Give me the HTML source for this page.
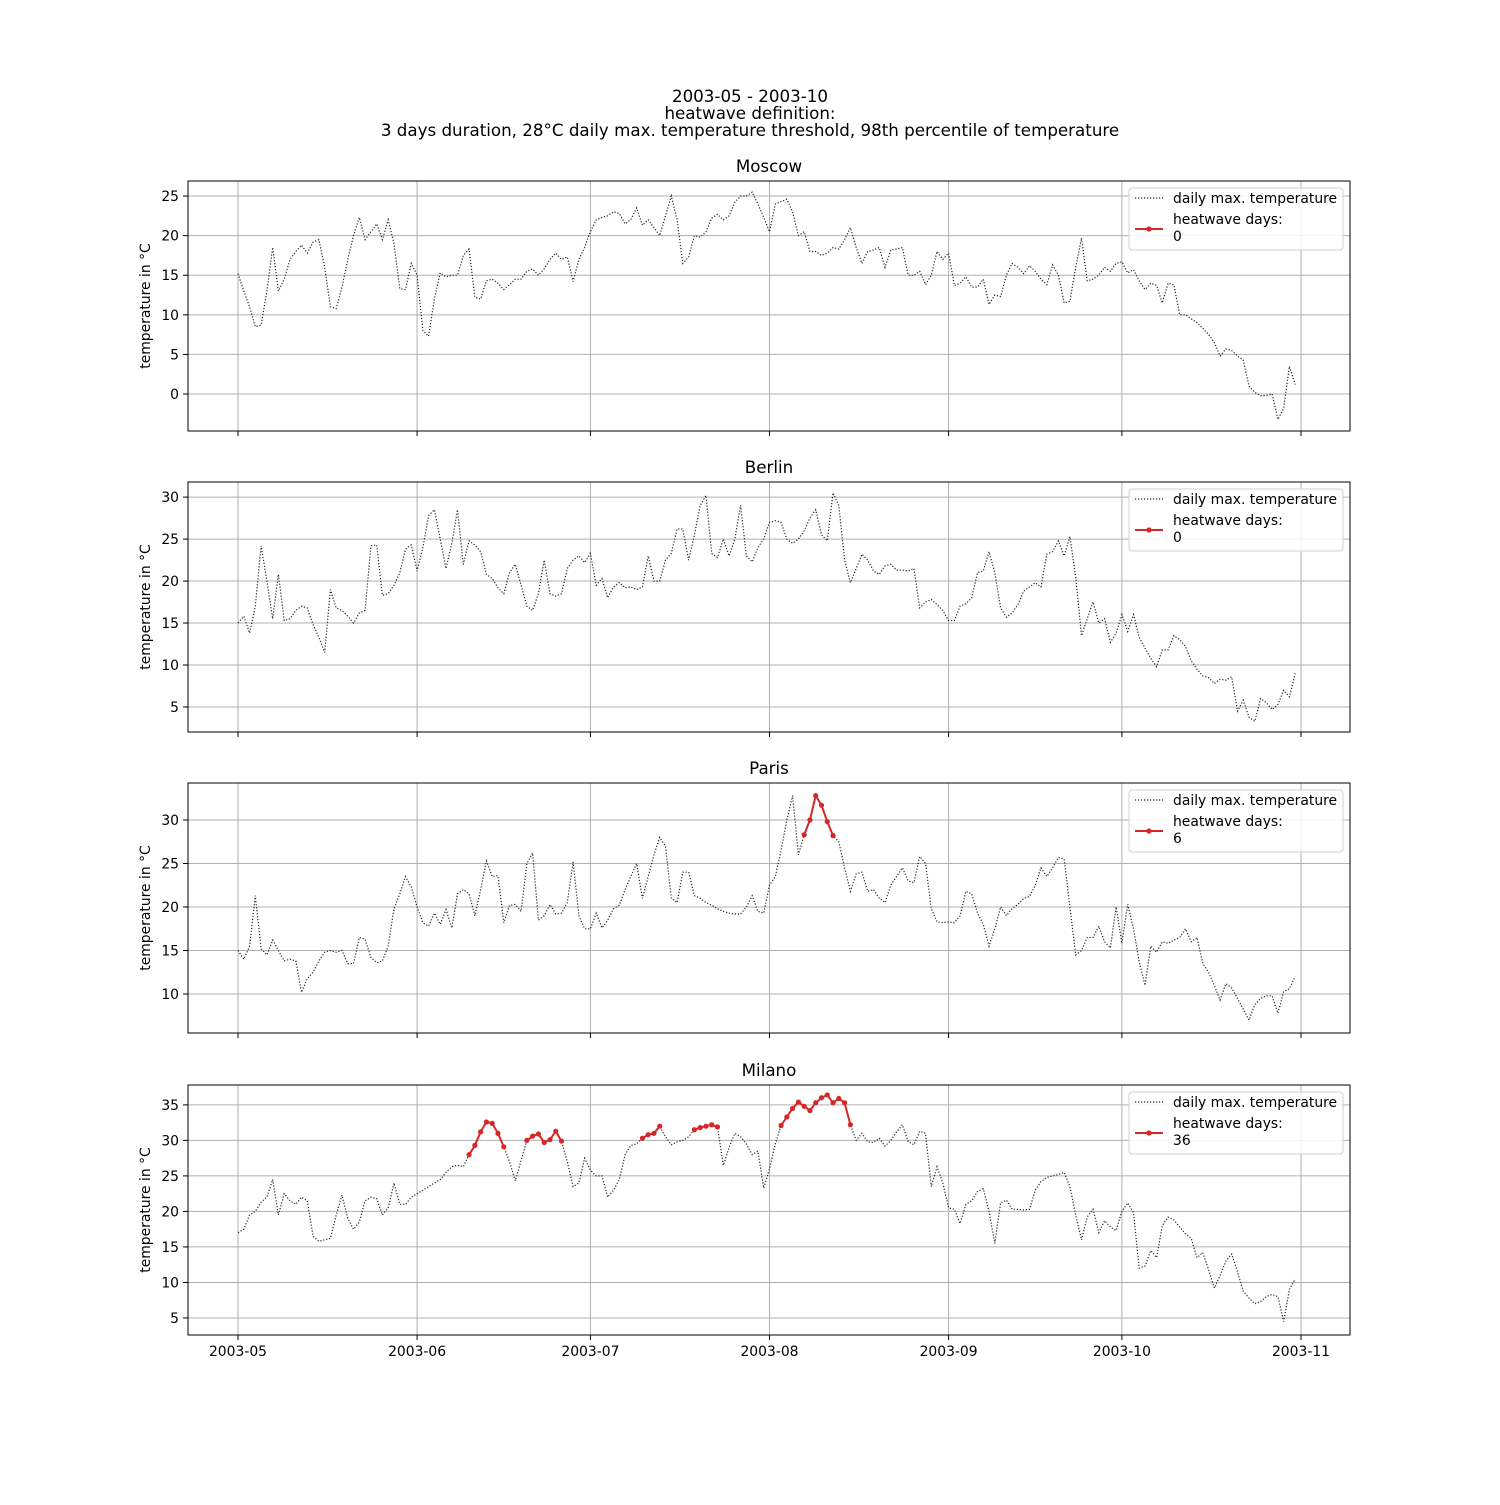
<!DOCTYPE html>
<html><head><meta charset="utf-8">
<style>
html,body{margin:0;padding:0;background:#fff;}
svg text{font-family:"DejaVu Sans","Liberation Sans",sans-serif;fill:#000;}
</style></head>
<body>
<svg id="chart" width="1500" height="1500" viewBox="0 0 1500 1500" xmlns="http://www.w3.org/2000/svg">
<rect width="1500" height="1500" fill="#fff"/>
<text x="750" y="102" font-size="16.7" text-anchor="middle">2003-05 - 2003-10</text>
<text x="750" y="119" font-size="16.7" text-anchor="middle">heatwave definition:</text>
<text x="750" y="136" font-size="16.7" text-anchor="middle">3 days duration, 28°C daily max. temperature threshold, 98th percentile of temperature</text>
</svg>
<script>
const cities = ["Moscow","Berlin","Paris","Milano"];
const moscowTemps = [15.2,13,11,8.5,8.7,13,18.5,13,14.5,17,18,18.8,17.8,19.2,19.5,16,11,10.8,13.5,17,20,22.3,19.5,20.5,21.5,19.5,22,19,13.3,13.2,16.5,15,8,7.3,12,15.3,14.8,15,15,17.5,18.3,12.2,12,14.3,14.5,14,13.2,13.8,14.5,14.5,15.5,15.8,15,15.8,17,17.8,17,17.3,14.2,17,18.5,20.5,22,22.3,22.5,23,22.8,21.5,22,23.5,21.3,22,21,20,22.5,25,22,16.5,17.3,20,19.8,20.5,22.2,22.7,22,22.5,24.2,25,25,25.5,24,22.3,20.5,24,24.3,24.6,23,20,20.5,18,18,17.5,17.8,18.5,18.3,19.5,21,18.5,16.5,18,18.2,18.5,16,18.2,18.3,18.5,15,15,15.5,13.8,15,18,17,17.8,13.7,14,14.8,13.5,13.5,14.5,11.3,12.5,12.3,15,16.5,16,15.2,16.2,15.5,14.5,13.8,16.3,15,11.5,11.7,16,19.7,14.3,14.5,15,16,15.5,16.5,16.7,15.3,15.7,14.3,13.2,14,13.7,11.5,14,13.8,10,10,9.5,9,8.3,7.5,6.5,4.8,5.7,5.5,4.8,4.3,1,0.2,-0.2,-0.2,0,-3.2,-1.8,3.5,1.2];
const berlinTemps = [15,15.8,13.8,17,24.2,20,15.5,20.8,15.3,15.5,16.5,17,16.8,14.8,13.3,11.5,19,16.8,16.5,15.8,15,16.2,16.5,24.2,24.3,18.3,18.5,19.5,21,23.8,24.3,21.2,24,27.8,28.5,25,21.5,24.5,28.5,22,24.8,24.3,23.5,20.8,20.3,19.2,18.5,21,22,19.5,17,16.5,18.5,22.5,18.5,18.2,18.5,21.5,22.5,23,22.2,23.3,19.5,20.3,18,19.3,19.8,19.2,19.3,19,19.3,23,20,20,22.5,23.3,26.2,26.2,22.5,25.5,29,30.2,23.3,22.8,25,23,25,29,23,22.3,24,25,27,27.2,27,25,24.5,25,26,27.5,28.5,25.5,24.8,30.5,29,22.5,19.8,21.5,23.2,22.5,21.2,20.8,21.8,22,21.3,21.3,21.2,21.5,16.8,17.5,17.8,17.2,16.5,15.3,15.3,17,17.3,18,21,21.2,23.5,21,16.8,15.7,16.2,17.2,18.8,19.3,19.8,19.3,23.2,23.5,24.8,23,25.3,20.5,13.5,15.5,17.5,15,15.5,12.7,13.8,16,14,16,13.3,12,10.8,9.8,11.8,11.8,13.5,13,12.2,10.5,9.5,8.7,8.5,7.8,8.3,8.2,8.6,4.5,5.8,3.8,3.3,6,5.5,4.7,5.3,7,6.2,9];
const parisTemps = [15,14,15.5,21.3,15.2,14.5,16.2,15,13.8,14,13.8,10.2,11.8,12.5,13.8,14.8,15,14.8,15,13.5,13.5,16.5,16.3,14.2,13.6,13.8,15.5,19.8,21.5,23.5,22.3,20,18.2,17.8,19.3,18,19.7,17.6,21.5,22,21.5,19,22,25.3,23.5,23.6,18.2,20.2,20.3,19.5,25,26.2,18.5,19,20.3,19.2,19.3,20.5,25.2,19,17.5,17.5,19.3,17.6,18.5,19.8,20.2,22,23.5,25,21,23.5,26,28,27,21,20.5,24,24,21.3,21,20.5,20.2,19.8,19.5,19.3,19.2,19.2,20,21.3,19.5,19.3,22.5,23.5,26.5,30,32.8,26,28.3,30,32.8,31.7,29.8,28.2,27.5,24.5,21.8,23.8,24,21.8,22,21,20.5,22.5,23.5,24.5,23,22.8,25.8,25,19.8,18.3,18.2,18.3,18.2,19,21.8,21.5,19.3,18,15.5,17.5,20,19,19.8,20.3,21,21.2,22.5,24.5,23.5,24.5,25.7,25.5,20,14.5,15,16.5,16.5,17.8,16,15.3,20,15.8,20.3,17.5,13.7,11,15.5,14.8,16,15.8,16.2,16.5,17.5,16,16.5,13.5,12.5,11,9.3,11.2,10.7,9.5,8.3,7,8.8,9.5,9.8,9.8,7.8,10.3,10.6,12];
const milanoTemps = [17,17.5,19.5,20,21.3,22,24.5,19.5,22.5,21.5,21,22,21.5,16.5,15.8,16,16.2,19.5,22.3,19,17.5,18.5,21.5,22,21.8,19.5,20.5,24,21,21,22,22.5,23,23.5,24,24.5,25.5,26.3,26.5,26.3,28,29.3,31.2,32.6,32.4,31,29.1,27,24.3,27.2,30,30.6,30.9,29.7,30.1,31.3,29.9,27,23.5,24,27.5,25.8,25,25,22,23,24.5,28,29.3,29.5,30.3,30.8,31,32,30.5,29.4,29.8,30,30.5,31.5,31.8,32,32.2,31.9,26.5,29,31,30.5,29.5,28,28.5,23.3,26,29.5,32.1,33.3,34.5,35.4,34.8,34.2,35.3,36,36.4,35.3,35.9,35.3,32.2,30,31,29.8,29.7,30.3,29.2,30,31.2,32.2,29.8,29.4,31.3,31,23.5,26.3,24,20.5,20.3,18.3,21,21.5,22.8,23.2,20,15.5,21.2,21.6,20.3,20.3,20.2,20.3,23,24.2,24.8,25,25.2,25.5,23.5,19.5,16,19.2,20.3,17,18.7,17.8,17.3,20,21.2,19.8,12,12.3,14.5,13.5,18,19.2,18.8,17.8,16.8,16.2,13.5,14.2,11.8,9.2,11,13,14,11.5,8.8,7.8,7,7.3,8,8.3,8,4.5,9,10.5];
const moscowWaves = [];
const berlinWaves = [];
const parisWaves = [[98,103]];
const milanoWaves = [[40,46],[50,56],[70,73],[79,83],[94,106]];
const moscowTicks = [0,5,10,15,20,25];
const berlinTicks = [5,10,15,20,25,30];
const parisTicks = [10,15,20,25,30];
const milanoTicks = [5,10,15,20,25,30,35];
const moscowRange = [-4.67,26.9];
const berlinRange = [2.02,31.8];
const parisRange = [5.52,34.25];
const milanoRange = [2.6,37.8];
const xTickLabels = ["2003-05","2003-06","2003-07","2003-08","2003-09","2003-10","2003-11"];
const xTickDays = [0,31,61,92,123,153,184];

const NS="http://www.w3.org/2000/svg";
const svg=document.getElementById('chart');
function mk(tag,attrs,parent){const e=document.createElementNS(NS,tag);for(const k in attrs)e.setAttribute(k,attrs[k]);(parent||svg).appendChild(e);return e;}
const X0=188,X1=1350;
const FS=13.9;
const xScale=d=>238+(1301-238)*d/184;
const panels=[
 {temps:moscowTemps,waves:moscowWaves,ticks:moscowTicks,range:moscowRange,top:181},
 {temps:berlinTemps,waves:berlinWaves,ticks:berlinTicks,range:berlinRange,top:482},
 {temps:parisTemps,waves:parisWaves,ticks:parisTicks,range:parisRange,top:783},
 {temps:milanoTemps,waves:milanoWaves,ticks:milanoTicks,range:milanoRange,top:1085}
];
const H=250;
panels.forEach((p,i)=>{
  const g=mk('g',{});
  
  
  const yS=v=>p.top+H-(v-p.range[0])/(p.range[1]-p.range[0])*H;
  xTickDays.forEach((d,j)=>{
    const l=mk('line',{x1:xScale(d),x2:xScale(d),y1:p.top,y2:p.top+H,stroke:'#b0b0b0','stroke-width':1},g);
    
    
    const t=mk('line',{x1:xScale(d),x2:xScale(d),y1:p.top+H,y2:p.top+H+5,stroke:'#000','stroke-width':1},g);
    
    
    if(i===3){
      const tl=mk('text',{x:xScale(d),y:p.top+H+21,'font-size':FS,'text-anchor':'middle'},g);
      tl.textContent=xTickLabels[j];
      
      
    }
  });
  p.ticks.forEach(v=>{
    const y=yS(v);
    const l=mk('line',{x1:X0,x2:X1,y1:y,y2:y,stroke:'#b0b0b0','stroke-width':1},g);
    
    
    mk('line',{x1:X0-5,x2:X0,y1:y,y2:y,stroke:'#000','stroke-width':1},g);
    const tl=mk('text',{x:X0-9,y:y+5,'font-size':FS,'text-anchor':'end'},g);
    tl.textContent=String(v);
    
    
  });
  const pts=p.temps.map((v,d)=>xScale(d).toFixed(1)+','+yS(v).toFixed(1)).join(' ');
  const pl=mk('polyline',{points:pts,fill:'none',stroke:'#222','stroke-width':1.2,'stroke-dasharray':'1.2,1.8'},g);
  
  
  p.waves.forEach(w=>{
    const seg=[];for(let d=w[0];d<=w[1];d++)seg.push([xScale(d),yS(p.temps[d])]);
    const hl=mk('polyline',{points:seg.map(s=>s[0].toFixed(1)+','+s[1].toFixed(1)).join(' '),fill:'none',stroke:'#d62728','stroke-width':2},g);
    
    
    seg.forEach(s=>{
      const c=mk('circle',{cx:s[0],cy:s[1],r:2.6,fill:'#d62728'},g);
      
      
    });
  });
  const fr=mk('rect',{x:X0,y:p.top,width:X1-X0,height:H,fill:'none',stroke:'#000','stroke-width':1},g);
  
  
  const tt=mk('text',{x:(X0+X1)/2,y:p.top-9,'font-size':16.7,'text-anchor':'middle'},g);
  tt.textContent=cities[i];
  
  
  const yl=mk('text',{x:0,y:0,'font-size':FS,'text-anchor':'middle',transform:'translate(150,'+(p.top+H/2)+') rotate(-90)'},g);
  yl.textContent='temperature in °C';
  
  
  const lg=mk('g',{},g);
  
  
  mk('rect',{x:1129,y:p.top+7,width:214,height:62,rx:3,fill:'#fff','fill-opacity':0.85,stroke:'#d0d0d0','stroke-width':1},lg);
  mk('line',{x1:1135,x2:1163,y1:p.top+17,y2:p.top+17,stroke:'#222','stroke-width':1.2,'stroke-dasharray':'1.2,1.8'},lg);
  const t1=mk('text',{x:1173,y:p.top+22,'font-size':FS},lg);
  t1.textContent='daily max. temperature';
  
  
  mk('line',{x1:1135,x2:1163,y1:p.top+48,y2:p.top+48,stroke:'#d62728','stroke-width':2},lg);
  mk('circle',{cx:1149,cy:p.top+48,r:2.6,fill:'#d62728'},lg);
  let n=0;p.waves.forEach(w=>n+=w[1]-w[0]+1);
  const t2=mk('text',{x:1173,y:p.top+43,'font-size':FS},lg);
  t2.textContent='heatwave days:';
  
  
  const t3=mk('text',{x:1173,y:p.top+60,'font-size':FS},lg);
  t3.textContent=String(n);
  
  
});
</script>
</body></html>
